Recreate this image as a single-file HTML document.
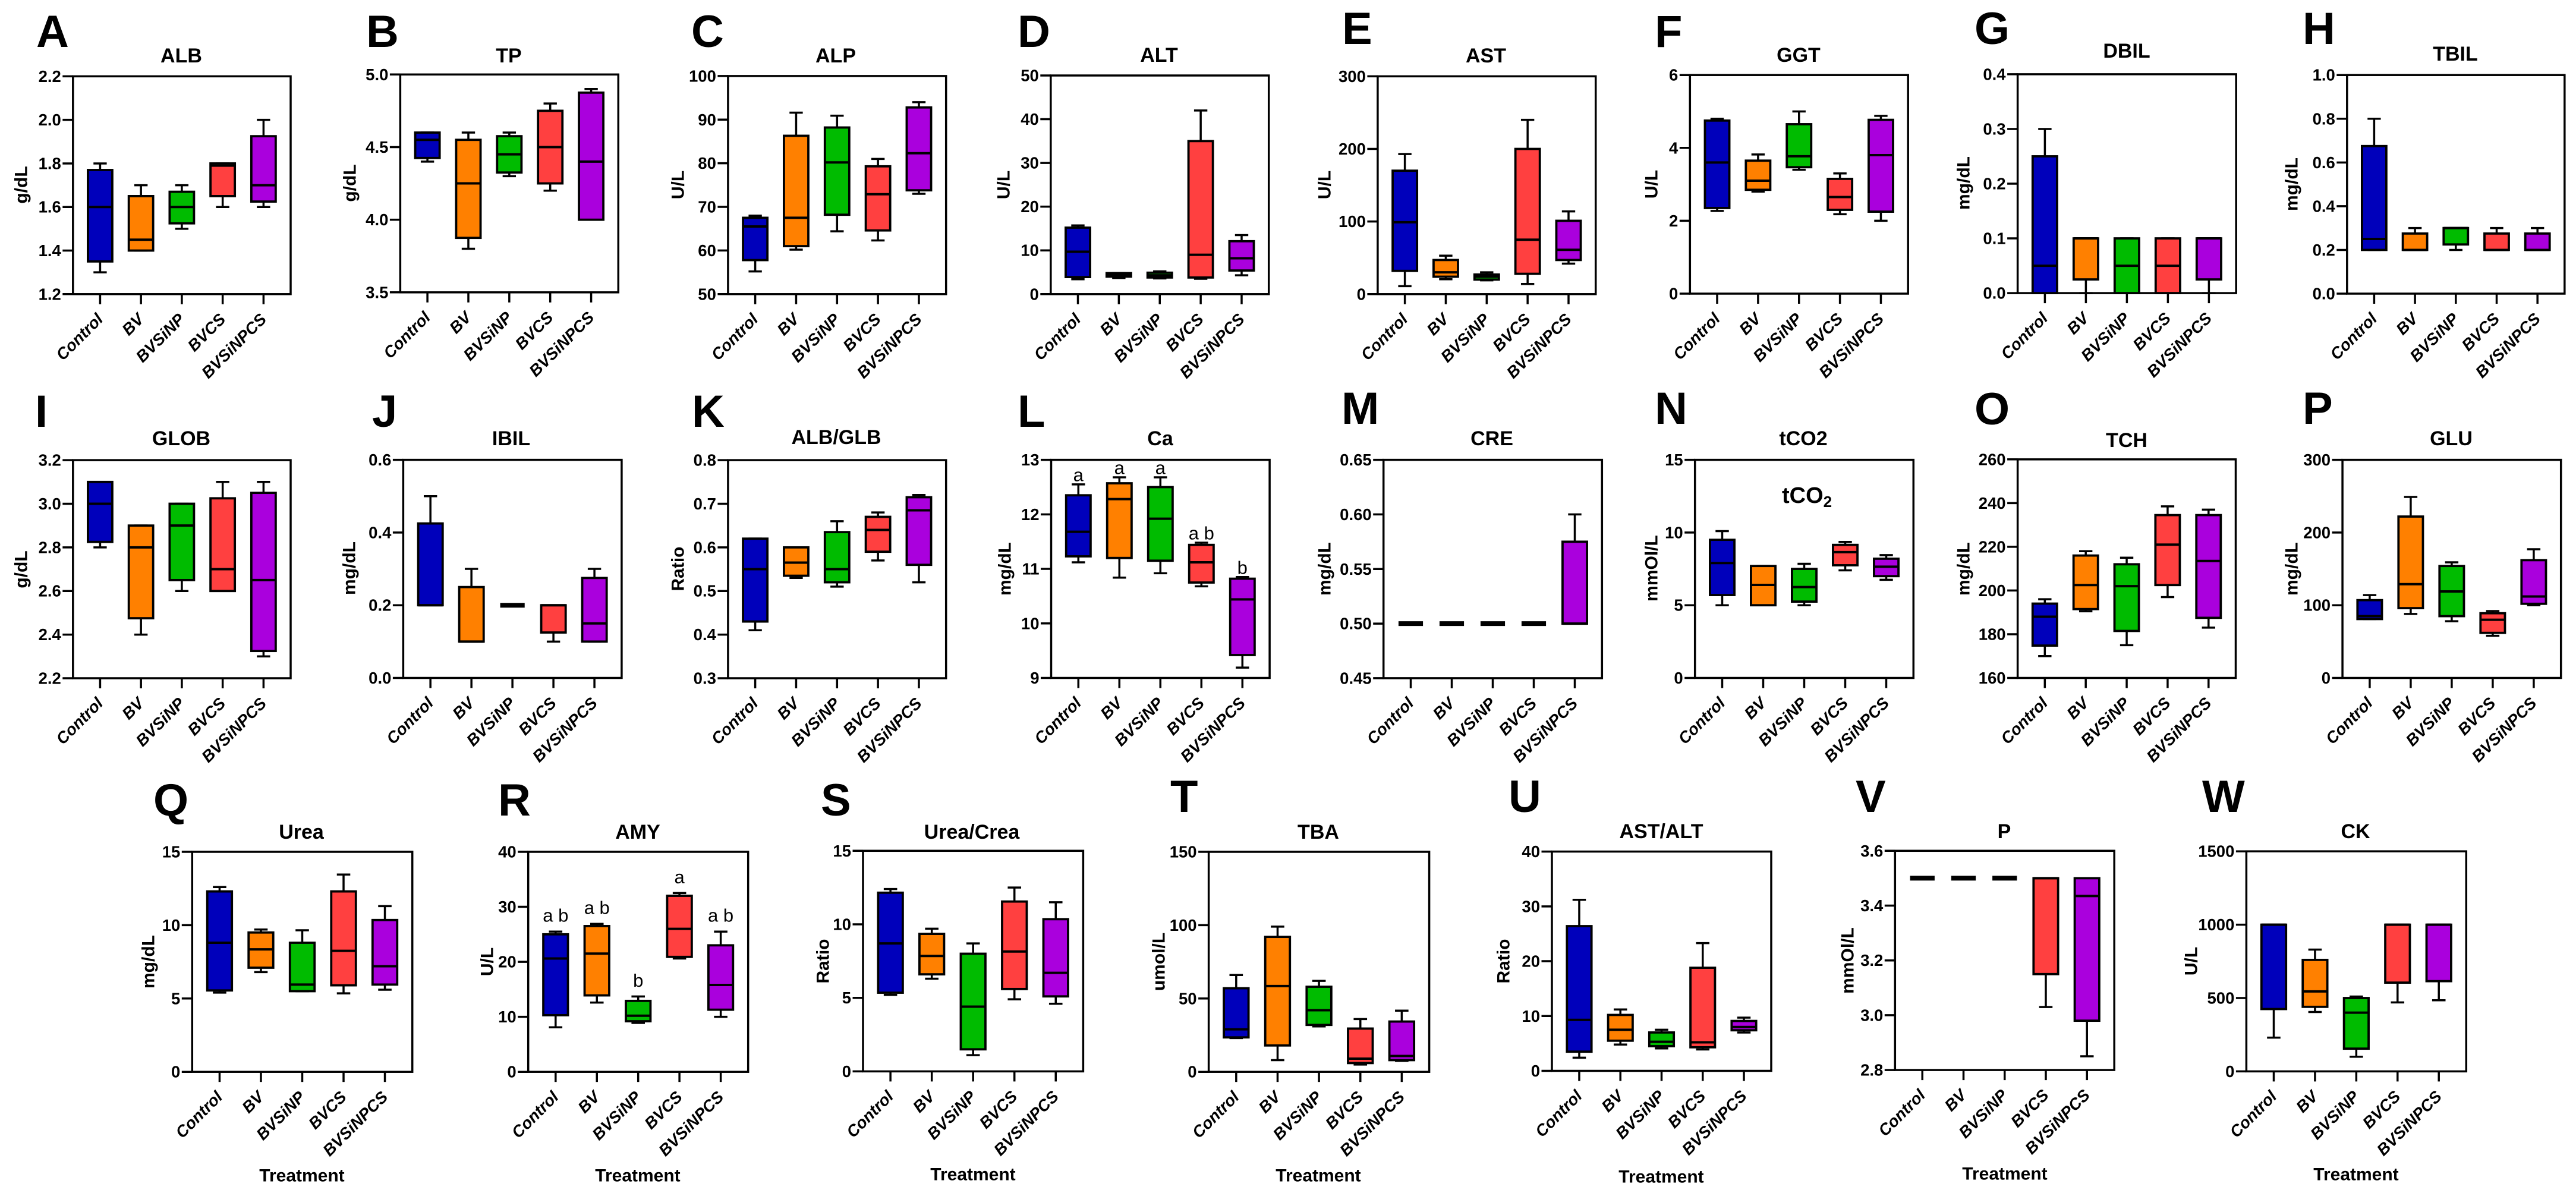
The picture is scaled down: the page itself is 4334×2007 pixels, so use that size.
<!DOCTYPE html>
<html lang="en">
<head>
<meta charset="utf-8">
<title>Serum biochemistry box plots</title>
<style>
html,body{margin:0;padding:0;background:#fff;}
svg{display:block;}
text{font-family:"Liberation Sans",Arial,sans-serif;fill:#000;}
.letter{font-size:76px;font-weight:700;}
.title{font-size:34px;font-weight:700;text-anchor:middle;dominant-baseline:central;}
.ylab{font-size:30px;font-weight:700;text-anchor:middle;dominant-baseline:central;}
.xlab{font-size:30px;font-weight:700;text-anchor:middle;dominant-baseline:central;}
.frame{fill:none;stroke:#000;stroke-width:3.5;}
</style>
</head>
<body>
<svg id="figure" xmlns="http://www.w3.org/2000/svg" width="4334" height="2007" viewBox="0 0 4334 2007">
<rect x="0" y="0" width="4334" height="2007" fill="#fff"/>

<g id="alb">
<text class="letter" x="61" y="79">A</text>
<text class="title" x="305" y="94">ALB</text>
<text class="ylab" x="36" y="311" transform="rotate(-90 36 311)">g/dL</text>
<rect class="frame" x="122.8" y="128.4" width="366.2" height="366.4"/>
</g>
<g id="tp">
<text class="letter" x="616" y="79">B</text>
<text class="title" x="856" y="94">TP</text>
<text class="ylab" x="589" y="308" transform="rotate(-90 589 308)">g/dL</text>
<rect class="frame" x="673.4" y="125.3" width="366.9" height="366.5"/>
</g>
<g id="alp">
<text class="letter" x="1163" y="79">C</text>
<text class="title" x="1406" y="94">ALP</text>
<text class="ylab" x="1141" y="311" transform="rotate(-90 1141 311)">U/L</text>
<rect class="frame" x="1224.9" y="127.9" width="366.8" height="366.9"/>
</g>
<g id="alt">
<text class="letter" x="1712" y="79">D</text>
<text class="title" x="1950" y="93">ALT</text>
<text class="ylab" x="1689" y="311" transform="rotate(-90 1689 311)">U/L</text>
<rect class="frame" x="1767.8" y="127" width="366.9" height="367.8"/>
</g>
<g id="ast">
<text class="letter" x="2258" y="74">E</text>
<text class="title" x="2500" y="94">AST</text>
<text class="ylab" x="2229" y="311" transform="rotate(-90 2229 311)">U/L</text>
<rect class="frame" x="2317.9" y="128.4" width="366.8" height="366.4"/>
</g>
<g id="ggt">
<text class="letter" x="2784" y="79">F</text>
<text class="title" x="3026" y="93">GGT</text>
<text class="ylab" x="2779" y="310" transform="rotate(-90 2779 310)">U/L</text>
<rect class="frame" x="2843.3" y="126.2" width="366.9" height="367.8"/>
</g>
<g id="dbil">
<text class="letter" x="3322" y="74">G</text>
<text class="title" x="3578" y="86">DBIL</text>
<text class="ylab" x="3304" y="308" transform="rotate(-90 3304 308)">mg/dL</text>
<rect class="frame" x="3394.6" y="124.9" width="367.6" height="368.2"/>
</g>
<g id="tbil">
<text class="letter" x="3874" y="74">H</text>
<text class="title" x="4131" y="91">TBIL</text>
<text class="ylab" x="3856" y="310" transform="rotate(-90 3856 310)">mg/dL</text>
<rect class="frame" x="3948.8" y="126.2" width="366" height="367.8"/>
</g>

<g id="glob">
<text class="letter" x="59" y="718">I</text>
<text class="title" x="305" y="738">GLOB</text>
<text class="ylab" x="36" y="958" transform="rotate(-90 36 958)">g/dL</text>
<rect class="frame" x="122.8" y="774.1" width="366.2" height="366.9"/>
</g>
<g id="ibil">
<text class="letter" x="626" y="718">J</text>
<text class="title" x="860" y="738">IBIL</text>
<text class="ylab" x="588" y="956" transform="rotate(-90 588 956)">mg/dL</text>
<rect class="frame" x="678.4" y="773.6" width="367.5" height="366.9"/>
</g>
<g id="albglb">
<text class="letter" x="1164" y="718">K</text>
<text class="title" x="1407" y="736">ALB/GLB</text>
<text class="ylab" x="1141" y="957" transform="rotate(-90 1141 957)">Ratio</text>
<rect class="frame" x="1224.9" y="774.1" width="366.8" height="366.9"/>
</g>
<g id="ca">
<text class="letter" x="1712" y="718">L</text>
<text class="title" x="1952" y="738">Ca</text>
<text class="ylab" x="1691" y="957" transform="rotate(-90 1691 957)">mg/dL</text>
<rect class="frame" x="1768.5" y="773.6" width="367.6" height="366.9"/>
</g>
<g id="cre">
<text class="letter" x="2257" y="713">M</text>
<text class="title" x="2510" y="738">CRE</text>
<text class="ylab" x="2229" y="957" transform="rotate(-90 2229 957)">mg/dL</text>
<rect class="frame" x="2327.7" y="773.6" width="367.6" height="367.3"/>
</g>
<g id="tco2">
<text class="letter" x="2784" y="713">N</text>
<text class="title" x="3034" y="738">tCO2</text>
<text class="ylab" x="2779" y="956" transform="rotate(-90 2779 956)">mmOl/L</text>
<rect class="frame" x="2851.7" y="773.6" width="367.6" height="366.9"/>
<text x="2998" y="846" font-size="38" font-weight="700">tCO<tspan dy="7" font-size="26">2</tspan></text>
</g>
<g id="tch">
<text class="letter" x="3322" y="714">O</text>
<text class="title" x="3578" y="741">TCH</text>
<text class="ylab" x="3304" y="957" transform="rotate(-90 3304 957)">mg/dL</text>
<rect class="frame" x="3394.6" y="772.8" width="366.9" height="367.7"/>
</g>
<g id="glu">
<text class="letter" x="3874" y="713">P</text>
<text class="title" x="4124" y="738">GLU</text>
<text class="ylab" x="3856" y="957" transform="rotate(-90 3856 957)">mg/dL</text>
<rect class="frame" x="3941.1" y="773.6" width="367.6" height="366.9"/>
</g>

<g id="urea">
<text class="letter" x="258" y="1372">Q</text>
<text class="title" x="507" y="1400">Urea</text>
<text class="ylab" x="250" y="1618" transform="rotate(-90 250 1618)">mg/dL</text>
<rect class="frame" x="323.3" y="1433" width="370.4" height="370.2"/>
<text class="xlab" x="508" y="1978">Treatment</text>
</g>
<g id="amy">
<text class="letter" x="838" y="1372">R</text>
<text class="title" x="1073" y="1400">AMY</text>
<text class="ylab" x="820" y="1618" transform="rotate(-90 820 1618)">U/L</text>
<rect class="frame" x="888.7" y="1433" width="370" height="370.2"/>
<text class="xlab" x="1073" y="1978">Treatment</text>
</g>
<g id="ureacrea">
<text class="letter" x="1381" y="1372">S</text>
<text class="title" x="1635" y="1400">Urea/Crea</text>
<text class="ylab" x="1385" y="1617" transform="rotate(-90 1385 1617)">Ratio</text>
<rect class="frame" x="1452" y="1431.3" width="370.4" height="371.1"/>
<text class="xlab" x="1637" y="1976">Treatment</text>
</g>
<g id="tba">
<text class="letter" x="1969" y="1366">T</text>
<text class="title" x="2218" y="1400">TBA</text>
<text class="ylab" x="1950" y="1618" transform="rotate(-90 1950 1618)">umol/L</text>
<rect class="frame" x="2033.6" y="1433" width="371" height="370.2"/>
<text class="xlab" x="2218" y="1978">Treatment</text>
</g>
<g id="astalt">
<text class="letter" x="2538" y="1366">U</text>
<text class="title" x="2795" y="1399">AST/ALT</text>
<text class="ylab" x="2530" y="1617" transform="rotate(-90 2530 1617)">Ratio</text>
<rect class="frame" x="2611" y="1432.6" width="369" height="368.9"/>
<text class="xlab" x="2795" y="1980">Treatment</text>
</g>
<g id="phos">
<text class="letter" x="3122" y="1366">V</text>
<text class="title" x="3372" y="1399">P</text>
<text class="ylab" x="3109" y="1616" transform="rotate(-90 3109 1616)">mmOl/L</text>
<rect class="frame" x="3188.3" y="1431.3" width="368.9" height="368.8"/>
<text class="xlab" x="3373" y="1975">Treatment</text>
</g>
<g id="ck">
<text class="letter" x="3705" y="1366">W</text>
<text class="title" x="3963" y="1399">CK</text>
<text class="ylab" x="3687" y="1617" transform="rotate(-90 3687 1617)">U/L</text>
<rect class="frame" x="3779.4" y="1432.2" width="369.9" height="370.2"/>
<text class="xlab" x="3964" y="1976">Treatment</text>
</g>
</svg>

<script>
const categories = ['Control','BV','BVSiNP','BVCS','BVSiNPCS'];
const boxColors = ['#0000BB','#FF8000','#00BB00','#FF4040','#AA00DD'];

const albTicks = ['1.2','1.4','1.6','1.8','2.0','2.2'];
const albLow = [1.3,1.4,1.5,1.6,1.6];
const albQ1 = [1.35,1.4,1.525,1.65,1.625];
const albMed = [1.6,1.45,1.6,1.79,1.7];
const albQ3 = [1.77,1.65,1.67,1.8,1.925];
const albHigh = [1.8,1.7,1.7,1.8,2.0];

const tpTicks = ['3.5','4.0','4.5','5.0'];
const tpLow = [4.4,3.8,4.3,4.2,4.0];
const tpQ1 = [4.425,3.875,4.325,4.25,4.0];
const tpMed = [4.55,4.25,4.45,4.5,4.4];
const tpQ3 = [4.6,4.55,4.575,4.75,4.875];
const tpHigh = [4.6,4.6,4.6,4.8,4.9];

const alpTicks = ['50','60','70','80','90','100'];
const alpLow = [55.2,60.2,64.4,62.3,73];
const alpQ1 = [57.8,61,68.2,64.6,73.8];
const alpMed = [65.5,67.5,80.2,72.9,82.3];
const alpQ3 = [67.5,86.3,88.2,79.3,92.8];
const alpHigh = [68,91.6,90.9,81,94];

const altTicks = ['0','10','20','30','40','50'];
const altLow = [3.4,3.7,3.6,3.5,4.3];
const altQ1 = [3.9,4.0,3.8,3.8,5.4];
const altMed = [9.7,4.4,4.3,9,8.2];
const altQ3 = [15.2,4.8,4.9,35,12.1];
const altHigh = [15.7,4.8,5.2,42,13.5];

const astTicks = ['0','100','200','300'];
const astLow = [11,20.5,19,14,42];
const astQ1 = [32,24,20,28,47];
const astMed = [99,30,24,75,61];
const astQ3 = [170,47,27,200,101];
const astHigh = [193,53,30,240,114];

const ggtTicks = ['0','2','4','6'];
const ggtLow = [2.27,2.8,3.4,2.18,2.0];
const ggtQ1 = [2.35,2.85,3.47,2.3,2.25];
const ggtMed = [3.6,3.1,3.77,2.65,3.8];
const ggtQ3 = [4.75,3.65,4.65,3.15,4.77];
const ggtHigh = [4.8,3.82,5.0,3.3,4.88];

const dbilTicks = ['0.0','0.1','0.2','0.3','0.4'];
const dbilLow = [0,0,0,0,0];
const dbilQ1 = [0,0.025,0,0,0.025];
const dbilMed = [0.05,0.1,0.05,0.05,0.1];
const dbilQ3 = [0.25,0.1,0.1,0.1,0.1];
const dbilHigh = [0.3,0.1,0.1,0.1,0.1];

const tbilTicks = ['0.0','0.2','0.4','0.6','0.8','1.0'];
const tbilLow = [0.2,0.2,0.2,0.2,0.2];
const tbilQ1 = [0.2,0.2,0.225,0.2,0.2];
const tbilMed = [0.25,0.2,0.3,0.2,0.2];
const tbilQ3 = [0.675,0.275,0.3,0.275,0.275];
const tbilHigh = [0.8,0.3,0.3,0.3,0.3];

const globTicks = ['2.2','2.4','2.6','2.8','3.0','3.2'];
const globLow = [2.8,2.4,2.6,2.6,2.3];
const globQ1 = [2.825,2.475,2.65,2.6,2.325];
const globMed = [3.0,2.8,2.9,2.7,2.65];
const globQ3 = [3.1,2.9,3.0,3.025,3.05];
const globHigh = [3.1,2.9,3.0,3.1,3.1];

const ibilTicks = ['0.0','0.2','0.4','0.6'];
const ibilLow = [0.2,0.1,0.2,0.1,0.1];
const ibilQ1 = [0.2,0.1,0.2,0.125,0.1];
const ibilMed = [0.2,0.1,0.2,0.2,0.15];
const ibilQ3 = [0.425,0.25,0.2,0.2,0.275];
const ibilHigh = [0.5,0.3,0.2,0.2,0.3];

const albglbTicks = ['0.3','0.4','0.5','0.6','0.7','0.8'];
const albglbLow = [0.41,0.53,0.51,0.57,0.52];
const albglbQ1 = [0.43,0.535,0.52,0.59,0.56];
const albglbMed = [0.55,0.565,0.55,0.64,0.685];
const albglbQ3 = [0.62,0.6,0.635,0.67,0.715];
const albglbHigh = [0.62,0.6,0.66,0.68,0.72];

const caTicks = ['9','10','11','12','13'];
const caLow = [11.12,10.84,10.92,10.68,9.19];
const caQ1 = [11.23,11.2,11.15,10.75,9.42];
const caMed = [11.68,12.28,11.92,11.12,10.44];
const caQ3 = [12.35,12.57,12.5,11.44,10.82];
const caHigh = [12.55,12.68,12.68,11.48,10.85];
const caLetters = ['a','a','a','a b','b'];

const creTicks = ['0.45','0.50','0.55','0.60','0.65'];
const creLow = [0.5,0.5,0.5,0.5,0.5];
const creQ1 = [0.5,0.5,0.5,0.5,0.5];
const creMed = [0.5,0.5,0.5,0.5,0.5];
const creQ3 = [0.5,0.5,0.5,0.5,0.575];
const creHigh = [0.5,0.5,0.5,0.5,0.6];

const tco2Ticks = ['0','5','10','15'];
const tco2Low = [5,5,5,7.4,6.75];
const tco2Q1 = [5.7,5,5.25,7.75,7];
const tco2Med = [7.9,6.4,6.25,8.65,7.65];
const tco2Q3 = [9.5,7.7,7.5,9.15,8.2];
const tco2High = [10.1,7.7,7.85,9.35,8.45];

const tchTicks = ['160','180','200','220','240','260'];
const tchLow = [170,190.5,175,197,183];
const tchQ1 = [174.8,191.5,181.5,202.5,187.5];
const tchMed = [188,202.5,202,221,213.5];
const tchQ3 = [194,216,212,234.5,234.5];
const tchHigh = [196,218,215,238.5,237];

const gluTicks = ['0','100','200','300'];
const gluLow = [81,88,78,58,100];
const gluQ1 = [81,96,85,62,102];
const gluMed = [85,129,119,80,112];
const gluQ3 = [107,222,154,89,162];
const gluHigh = [114,249,159,92,177];

const ureaTicks = ['0','5','10','15'];
const ureaLow = [5.4,6.8,5.5,5.35,5.6];
const ureaQ1 = [5.55,7.1,5.5,5.9,5.95];
const ureaMed = [8.8,8.35,5.95,8.25,7.2];
const ureaQ3 = [12.3,9.5,8.8,12.3,10.35];
const ureaHigh = [12.6,9.7,9.65,13.45,11.3];

const amyTicks = ['0','10','20','30','40'];
const amyLow = [8.1,12.6,8.9,20.6,10];
const amyQ1 = [10.3,13.9,9.2,20.9,11.3];
const amyMed = [20.6,21.5,10.2,26,15.8];
const amyQ3 = [25,26.5,12.9,32,23];
const amyHigh = [25.5,26.9,13.7,32.5,25.5];
const amyLetters = ['a b','a b','b','a','a b'];

const ureacreaTicks = ['0','5','10','15'];
const ureacreaLow = [5.2,6.3,1.1,4.9,4.6];
const ureacreaQ1 = [5.35,6.6,1.5,5.6,5.1];
const ureacreaMed = [8.7,7.85,4.4,8.15,6.7];
const ureacreaQ3 = [12.15,9.35,8,11.55,10.35];
const ureacreaHigh = [12.4,9.7,8.7,12.5,11.5];

const tbaTicks = ['0','50','100','150'];
const tbaLow = [23,8,31,5,7.5];
const tbaQ1 = [23.5,18,32,6,8];
const tbaMed = [29,58.5,42,9,10.8];
const tbaQ3 = [57,92,58,29.5,34.3];
const tbaHigh = [66,99,62,36,41.7];

const astaltTicks = ['0','10','20','30','40'];
const astaltLow = [2.4,4.8,4.1,3.9,7];
const astaltQ1 = [3.5,5.5,4.5,4.3,7.4];
const astaltMed = [9.3,7.5,5.3,5.2,8];
const astaltQ3 = [26.4,10.2,7,18.8,9.1];
const astaltHigh = [31.2,11.2,7.5,23.3,9.7];

const phosTicks = ['2.8','3.0','3.2','3.4','3.6'];
const phosLow = [3.5,3.5,3.5,3.03,2.85];
const phosQ1 = [3.5,3.5,3.5,3.15,2.98];
const phosMed = [3.5,3.5,3.5,3.5,3.435];
const phosQ3 = [3.5,3.5,3.5,3.5,3.5];
const phosHigh = [3.5,3.5,3.5,3.5,3.5];

const ckTicks = ['0','500','1000','1500'];
const ckLow = [230,405,100,470,485];
const ckQ1 = [425,440,155,605,615];
const ckMed = [1000,545,400,1000,1000];
const ckQ3 = [1000,760,500,1000,1000];
const ckHigh = [1000,830,510,1000,1000];

const panels = [
  ['alb',albTicks,albLow,albQ1,albMed,albQ3,albHigh],
  ['tp',tpTicks,tpLow,tpQ1,tpMed,tpQ3,tpHigh],
  ['alp',alpTicks,alpLow,alpQ1,alpMed,alpQ3,alpHigh],
  ['alt',altTicks,altLow,altQ1,altMed,altQ3,altHigh],
  ['ast',astTicks,astLow,astQ1,astMed,astQ3,astHigh],
  ['ggt',ggtTicks,ggtLow,ggtQ1,ggtMed,ggtQ3,ggtHigh],
  ['dbil',dbilTicks,dbilLow,dbilQ1,dbilMed,dbilQ3,dbilHigh],
  ['tbil',tbilTicks,tbilLow,tbilQ1,tbilMed,tbilQ3,tbilHigh],
  ['glob',globTicks,globLow,globQ1,globMed,globQ3,globHigh],
  ['ibil',ibilTicks,ibilLow,ibilQ1,ibilMed,ibilQ3,ibilHigh],
  ['albglb',albglbTicks,albglbLow,albglbQ1,albglbMed,albglbQ3,albglbHigh],
  ['ca',caTicks,caLow,caQ1,caMed,caQ3,caHigh,caLetters,16],
  ['cre',creTicks,creLow,creQ1,creMed,creQ3,creHigh],
  ['tco2',tco2Ticks,tco2Low,tco2Q1,tco2Med,tco2Q3,tco2High],
  ['tch',tchTicks,tchLow,tchQ1,tchMed,tchQ3,tchHigh],
  ['glu',gluTicks,gluLow,gluQ1,gluMed,gluQ3,gluHigh],
  ['urea',ureaTicks,ureaLow,ureaQ1,ureaMed,ureaQ3,ureaHigh],
  ['amy',amyTicks,amyLow,amyQ1,amyMed,amyQ3,amyHigh,amyLetters,27],
  ['ureacrea',ureacreaTicks,ureacreaLow,ureacreaQ1,ureacreaMed,ureacreaQ3,ureacreaHigh],
  ['tba',tbaTicks,tbaLow,tbaQ1,tbaMed,tbaQ3,tbaHigh],
  ['astalt',astaltTicks,astaltLow,astaltQ1,astaltMed,astaltQ3,astaltHigh],
  ['phos',phosTicks,phosLow,phosQ1,phosMed,phosQ3,phosHigh],
  ['ck',ckTicks,ckLow,ckQ1,ckMed,ckQ3,ckHigh]
];

const SVG_NS = 'http://www.w3.org/2000/svg';
function make(parent, tag, attrs) {
  const el = document.createElementNS(SVG_NS, tag);
  for (const k in attrs) el.setAttribute(k, attrs[k]);
  parent.appendChild(el);
  return el;
}

panels.forEach(function (p) {
  const key = p[0], ticks = p[1], low = p[2], q1 = p[3], med = p[4], q3 = p[5], high = p[6], letters = p[7], letterGap = p[8];
  const g = document.getElementById(key);
  const frame = g.querySelector('.frame');
  const left = parseFloat(frame.getAttribute('x'));
  const top = parseFloat(frame.getAttribute('y'));
  const w = parseFloat(frame.getAttribute('width'));
  const h = parseFloat(frame.getAttribute('height'));
  const bottom = top + h;
  const yMin = parseFloat(ticks[0]);
  const yMax = parseFloat(ticks[ticks.length - 1]);
  const yScale = function (v) { return bottom - (v - yMin) / (yMax - yMin) * h; };
  const xScale = function (i) { return left + w * (0.5 + (i - 2) * 0.1877); };
  const boxW = w * 0.112;
  const capW = w * 0.061;

  ticks.forEach(function (t) {
    const y = yScale(parseFloat(t));
    const line = make(g, 'line', {x1: left - 17.5, x2: left, y1: y, y2: y, stroke: '#000', 'stroke-width': 3.5});
    
    
    const label = make(g, 'text', {x: left - 20, y: y, 'text-anchor': 'end', 'dominant-baseline': 'central', 'font-size': 27.5, 'font-weight': 700});
    label.textContent = t;
    
    
  });

  categories.forEach(function (cat, i) {
    const x = xScale(i);
    const tick = make(g, 'line', {x1: x, x2: x, y1: bottom, y2: bottom + 17, stroke: '#000', 'stroke-width': 3.5});
    
    
    const ax = x + 6.5, ay = bottom + 44;
    const label = make(g, 'text', {x: ax, y: ay, 'text-anchor': 'end', 'font-size': 27.5, 'font-weight': 700, 'font-style': 'italic', transform: 'rotate(-45 ' + ax + ' ' + ay + ')'});
    label.textContent = cat;
    
    

    const wh = make(g, 'path', {
      d: 'M' + x + ' ' + yScale(q3[i]) + 'V' + yScale(high[i]) + 'M' + (x - capW / 2) + ' ' + yScale(high[i]) + 'H' + (x + capW / 2) +
         'M' + x + ' ' + yScale(q1[i]) + 'V' + yScale(low[i]) + 'M' + (x - capW / 2) + ' ' + yScale(low[i]) + 'H' + (x + capW / 2),
      fill: 'none', stroke: '#000', 'stroke-width': 3.5
    });
    
    

    const boxTop = yScale(q3[i]), boxBottom = yScale(q1[i]);
    const box = make(g, 'rect', {x: x - boxW / 2, y: boxTop, width: boxW, height: boxBottom - boxTop, fill: boxColors[i], stroke: '#000', 'stroke-width': 3.8});
    
    

    const collapsed = q3[i] === q1[i];
    const medLine = make(g, 'line', {x1: x - boxW / 2, x2: x + boxW / 2, y1: yScale(med[i]), y2: yScale(med[i]), stroke: '#000', 'stroke-width': collapsed ? 8 : 4});
    
    

    if (letters) {
      const sig = make(g, 'text', {x: x, y: yScale(high[i]) - letterGap, 'text-anchor': 'middle', 'dominant-baseline': 'central', 'font-size': 31});
      sig.textContent = letters[i];
      
      
    }
  });
});
</script>
</body>
</html>
